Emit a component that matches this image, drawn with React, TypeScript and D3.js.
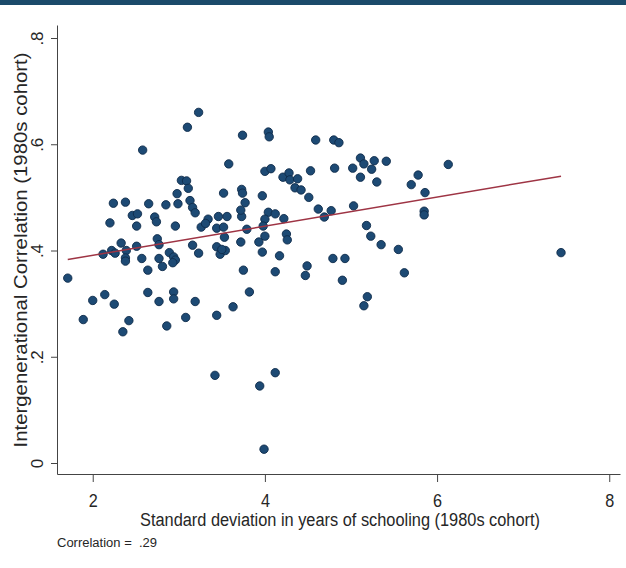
import React, { useEffect, useRef } from 'react';
import * as d3 from 'd3';

// schooling SD (x) vs intergenerational correlation (y), 1980s cohort
const sdSchooling = [
  3.23, 3.10, 3.74, 2.58, 3.58, 3.03, 3.09, 3.11, 2.98, 3.13, 2.99, 2.24, 2.38, 2.65, 2.85,
  3.52, 3.73, 3.74, 3.77, 3.16, 3.19, 2.46, 2.52, 2.72, 2.74, 2.20, 2.51, 2.96, 3.26, 3.34,
  3.31, 3.46, 3.56, 3.44, 3.52, 3.73, 3.72, 3.79, 3.53, 2.75, 2.33, 3.16, 2.51, 2.77, 3.72,
  2.12, 2.22, 2.26, 2.39, 2.38, 2.38, 2.57, 2.89, 2.94, 2.96, 2.93, 2.77, 2.81, 3.23, 3.44,
  3.48, 3.54, 3.50, 2.64, 1.71, 3.75,
  2.00, 2.14, 2.25, 1.89, 2.42, 2.35, 2.64, 2.77, 2.94, 2.94, 3.19, 3.08, 2.86, 3.44, 3.63,
  3.82, 3.42,
  4.04, 4.05, 4.59, 4.80, 4.86, 4.00, 4.07, 4.53, 4.81, 4.21, 4.28, 4.29, 4.38, 4.35, 4.42,
  4.51, 3.97, 5.02, 5.11, 5.15, 5.27, 5.24, 5.11, 5.41, 5.30, 5.78, 5.70, 5.86, 6.13, 5.85,
  5.85, 4.04, 4.00, 3.98, 4.12, 4.22, 4.62, 4.69, 4.77, 5.03, 4.00, 3.93, 3.97, 4.25, 4.26,
  5.18, 5.23, 5.35, 5.55, 4.17, 4.12, 4.49, 4.47, 4.79, 4.93, 4.90, 5.62,
  5.19, 5.15, 4.12, 3.94, 3.99, 7.44,
];
const intergenCorr = [
  0.660, 0.632, 0.617, 0.589, 0.563, 0.532, 0.531, 0.517, 0.507, 0.494, 0.488, 0.489, 0.491, 0.488, 0.486,
  0.508, 0.515, 0.508, 0.490, 0.481, 0.471, 0.466, 0.469, 0.463, 0.454, 0.452, 0.446, 0.446, 0.444, 0.459,
  0.451, 0.464, 0.464, 0.442, 0.444, 0.464, 0.476, 0.440, 0.425, 0.422, 0.414, 0.410, 0.408, 0.411, 0.416,
  0.393, 0.400, 0.395, 0.400, 0.386, 0.380, 0.385, 0.396, 0.388, 0.382, 0.377, 0.385, 0.370, 0.395, 0.407,
  0.393, 0.400, 0.402, 0.363, 0.348, 0.363,
  0.306, 0.317, 0.299, 0.270, 0.268, 0.247, 0.321, 0.304, 0.322, 0.309, 0.304, 0.274, 0.258, 0.278, 0.294,
  0.322, 0.165,
  0.623, 0.614, 0.608, 0.608, 0.603, 0.549, 0.554, 0.550, 0.555, 0.538, 0.546, 0.533, 0.535, 0.518, 0.514,
  0.500, 0.503, 0.555, 0.574, 0.563, 0.569, 0.553, 0.538, 0.568, 0.529, 0.542, 0.524, 0.509, 0.562, 0.474,
  0.467, 0.472, 0.459, 0.446, 0.469, 0.460, 0.478, 0.463, 0.475, 0.484, 0.427, 0.416, 0.397, 0.431, 0.420,
  0.447, 0.427, 0.411, 0.402, 0.390, 0.360, 0.371, 0.353, 0.385, 0.385, 0.344, 0.358,
  0.313, 0.296, 0.170, 0.145, 0.026, 0.396,
];
// fitted values at the ends of the data range
const fitX = [1.71, 7.44];
const fitY = [0.383, 0.540];

const xTicks = [2, 4, 6, 8];
const yTicks = [0, 0.2, 0.4, 0.6, 0.8];
const xTitle = 'Standard deviation in years of schooling (1980s cohort)';
const yTitle = 'Intergenerational Correlation (1980s cohort)';
const note = 'Correlation =  .29';

export default function App() {
  const svgRef = useRef<SVGSVGElement>(null);

  useEffect(() => {
    document.body.style.margin = '0';
    const svg = d3.select(svgRef.current);
    svg.selectAll('*').remove();

    const W = 626, H = 568;
    const font = '"Liberation Sans", Arial, sans-serif';
    const txt = '#262626';

    svg.append('rect').attr('width', W).attr('height', H).attr('fill', '#fff');
    svg.append('rect').attr('width', W).attr('height', 5).attr('fill', '#1b4a6a');

    const x = d3.scaleLinear().domain([1.585, 8.125]).range([57, 620]);
    const y = d3.scaleLinear().domain([-0.0207, 0.8245]).range([474, 25]);

    // x axis
    const gx = svg.append('g').attr('transform', 'translate(0,474)')
      .call(d3.axisBottom(x).tickValues(xTicks).tickSize(8).tickSizeOuter(0).tickFormat(d3.format('d')));
    gx.select('.domain').attr('stroke', '#444');
    gx.selectAll('.tick line').attr('stroke', '#444');
    gx.selectAll('.tick text').attr('y', 20).attr('dy', '0.71em')
      .attr('transform', 'scale(0.9,1)')
      .style('font-family', font).style('font-size', '18px').attr('fill', txt);

    // y axis, labels rotated like Stata
    const fmtY = (d: number) => (d === 0 ? '0' : d3.format('.1f')(d).replace(/^0/, ''));
    const gy = svg.append('g').attr('transform', 'translate(57,0)')
      .call(d3.axisLeft(y).tickValues(yTicks).tickSize(6).tickSizeOuter(0).tickFormat(fmtY as any));
    gy.select('.domain').attr('stroke', '#444');
    gy.selectAll('.tick line').attr('stroke', '#444');
    gy.selectAll('.tick text')
      .attr('transform', 'rotate(-90)').attr('x', 0).attr('y', -14).attr('dy', 0)
      .attr('text-anchor', 'middle')
      .style('font-family', font).style('font-size', '17px').attr('fill', txt);

    // scatter
    const pts = sdSchooling.map((v, i) => ({ sd: v, r: intergenCorr[i] }));
    svg.append('g').selectAll('circle').data(pts).enter().append('circle')
      .attr('cx', d => x(d.sd)).attr('cy', d => y(d.r)).attr('r', 4.2)
      .attr('fill', '#1d4a74').attr('stroke', '#0e2b4b').attr('stroke-width', 0.9);

    // fitted line
    const fit = fitX.map((v, i) => [v, fitY[i]] as [number, number]);
    svg.append('path').datum(fit)
      .attr('d', d3.line<[number, number]>().x(d => x(d[0])).y(d => y(d[1])))
      .attr('fill', 'none').attr('stroke', '#9e3444').attr('stroke-width', 1.5);

    // titles
    svg.append('text').attr('x', 340).attr('y', 526).attr('text-anchor', 'middle')
      .attr('textLength', 400).attr('lengthAdjust', 'spacingAndGlyphs')
      .style('font-family', font).style('font-size', '18px').attr('fill', txt).text(xTitle);
    svg.append('text').attr('transform', 'translate(27,250) rotate(-90)').attr('text-anchor', 'middle')
      .attr('textLength', 395).attr('lengthAdjust', 'spacingAndGlyphs')
      .style('font-family', font).style('font-size', '18px').attr('fill', txt).text(yTitle);
    svg.append('text').attr('x', 57).attr('y', 547).style('white-space', 'pre')
      .attr('textLength', 100).attr('lengthAdjust', 'spacingAndGlyphs')
      .style('font-family', font).style('font-size', '12px').attr('fill', txt).text(note);
  }, []);

  return (
    <div style={{ position: 'absolute', left: 0, top: 0 }}>
      <svg ref={svgRef} width={626} height={568} style={{ display: 'block' }}></svg>
    </div>
  );
}
